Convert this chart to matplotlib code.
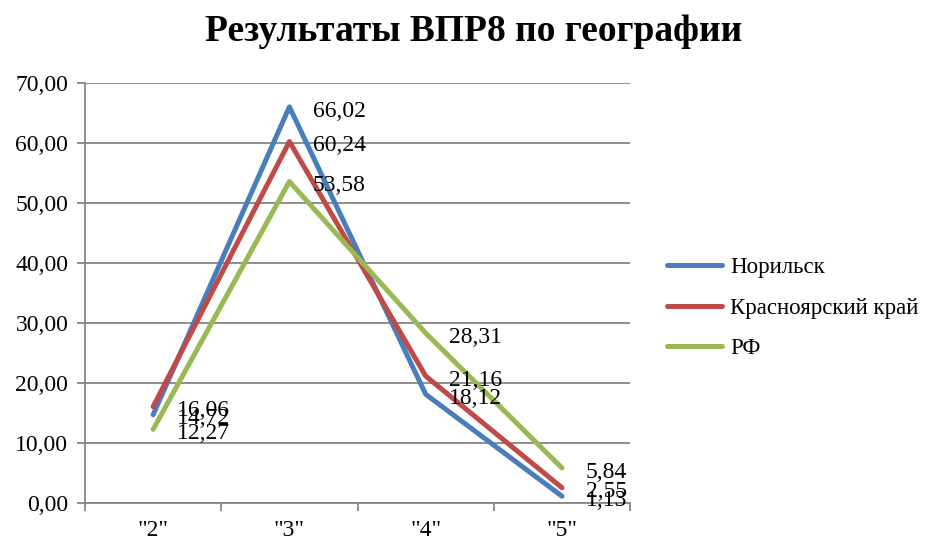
import matplotlib
matplotlib.use("Agg")
import matplotlib.pyplot as plt
import numpy as np

plt.rcParams['font.family'] = ['Liberation Serif', 'DejaVu Serif']

categories = ['"2"', '"3"', '"4"', '"5"']
norilsk = [14.72, 66.02, 18.12, 1.13]
krasnoyarsk = [16.06, 60.24, 21.16, 2.55]
rf = [12.27, 53.58, 28.31, 5.84]
series_names = ['Норильск', 'Красноярский край', 'РФ']
colors = ['#4a7ebb', '#be4b48', '#98b954']

fig = plt.figure(figsize=[9.28, 5.41], dpi=100)
ax = fig.add_axes([0.0916, 0.0702, 0.5874, 0.7764])

x = np.arange(len(categories))
for vals, name, c in zip([norilsk, krasnoyarsk, rf], series_names, colors):
    ax.plot(x, vals, color=c, linewidth=3.6, label=name, solid_capstyle='round', zorder=3)
    for xi, v in zip(x, vals):
        ax.annotate(f"{v:.2f}".replace('.', ','), (xi, v), xytext=(17, -3),
                    textcoords='offset points', va='center', ha='left', fontsize=17, zorder=4)

ax.set_xlim(-0.5, len(categories) - 0.5)
ax.set_ylim(0, 70)
ax.set_yticks(np.arange(0, 71, 10))
ax.set_yticklabels([f"{v:.2f}".replace('.', ',') for v in np.arange(0, 71, 10)], fontsize=17)
ax.set_xticks(x)
ax.set_xticklabels(categories, fontsize=17)
ax.set_xticks(np.arange(-0.5, len(categories), 1), minor=True)
ax.tick_params(axis='x', which='major', length=0, pad=12)
ax.tick_params(axis='x', which='minor', length=6, color='#868686', width=1.3)
ax.tick_params(axis='y', length=6, color='#868686', width=1.3, pad=6)
ax.grid(axis='y', color='#868686', linewidth=1.3)
ax.set_axisbelow(True)
for s in ['top', 'right']:
    ax.spines[s].set_visible(False)
for s in ['left', 'bottom']:
    ax.spines[s].set_color('#868686')
    ax.spines[s].set_linewidth(1.3)

fig.suptitle('Результаты ВПР8 по географии', fontsize=27, fontweight='bold', x=0.51, y=0.975)
fig.legend(loc='center left', bbox_to_anchor=(0.697, 0.43), frameon=False, fontsize=16.5,
           handlelength=2.4, handletextpad=0.34, labelspacing=0.85)

fig.savefig('out.png', dpi=100)
